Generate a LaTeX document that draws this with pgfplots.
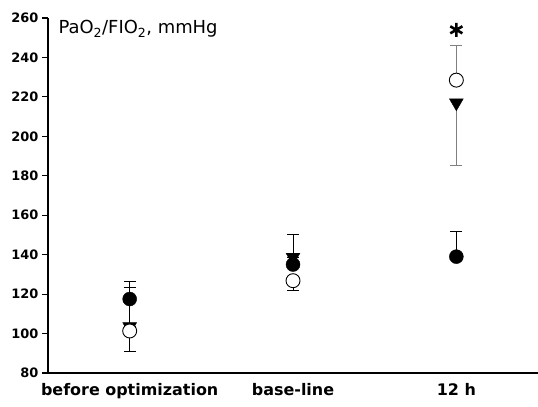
\documentclass[border=0pt]{standalone}
\usepackage{fontspec}
\setmainfont{DejaVu Sans}
\usepackage{pgfplots}
\pgfplotsset{compat=1.18}
\begin{document}
\begin{tikzpicture}
\begin{axis}[
    scale only axis,
    width=490bp, height=355bp,
    xmin=-0.5, xmax=2.5,
    ymin=80, ymax=260,
    axis lines=left,
    axis line style={line width=1.6bp, -},
    xtick={0,1,2},
    xticklabels={before optimization, base-line, 12 h},
    xtick style={draw=none},
    ytick={80,100,...,260},
    ytick style={line width=1.2bp, black},
    tick align=outside,
    major tick length=6bp,
    /pgf/number format/assume math mode=true,
    yticklabel style={font=\fontsize{13}{15}\selectfont\bfseries},
    xticklabel style={font=\fontsize{16}{18}\selectfont\bfseries, yshift=-1bp},
    clip=false,
    error bars/error bar style={line width=0.8bp, black},
    error bars/error mark options={rotate=90, mark size=6bp, line width=0.8bp, black},
]

% triangles (down)
\addplot[only marks, mark=triangle*, mark size=8bp, mark options={rotate=180, fill=black},
    error bars/.cd, y dir=both, y explicit]
coordinates {
    (0,103.5) += (0,19.8) -= (0,0)
    (1,138.7) += (0,0) -= (0,0)
};
\addplot[only marks, mark=triangle*, mark size=8bp, mark options={rotate=180, fill=black},
    error bars/.cd, y dir=minus, y explicit,
    error bar style={line width=0.8bp, gray}, error mark options={rotate=90, mark size=6bp, gray}]
coordinates {
    (2,217) -= (0,31.5)
};

% filled circles
\addplot[only marks, mark=*, mark size=7bp, mark options={fill=black},
    error bars/.cd, y dir=plus, y explicit]
coordinates {
    (0,117.5) += (0,8.8)
    (1,135.0) += (0,15.5)
    (2,139.0) += (0,13.0)
};

% open circles
\addplot[only marks, mark=*, mark size=7bp, mark options={fill=white, line width=0.9bp},
    error bars/.cd, y dir=minus, y explicit]
coordinates {
    (0,101.3) -= (0,10.2)
    (1,126.8) -= (0,4.8)
};
\addplot[only marks, mark=*, mark size=7bp, mark options={fill=white, line width=0.9bp},
    error bars/.cd, y dir=plus, y explicit,
    error bar style={line width=0.8bp, gray}, error mark options={rotate=90, mark size=6bp, gray}]
coordinates {
    (2,228.5) += (0,17.5)
};

% significance
\addplot[only marks, mark=asterisk, mark size=7bp, line width=2.6bp, black]
coordinates {(2,254)};

\node[anchor=base west, font=\fontsize{18}{20}\selectfont]
    at (axis cs:-0.457,252) {PaO\textsubscript{2}/FIO\textsubscript{2}, mmHg};

\coordinate (bl) at (rel axis cs:-0.098,-0.093);
\coordinate (tr) at (rel axis cs:1,1.0507);
\end{axis}
\pgfresetboundingbox
\path (bl) rectangle (tr);
\end{tikzpicture}
\end{document}
